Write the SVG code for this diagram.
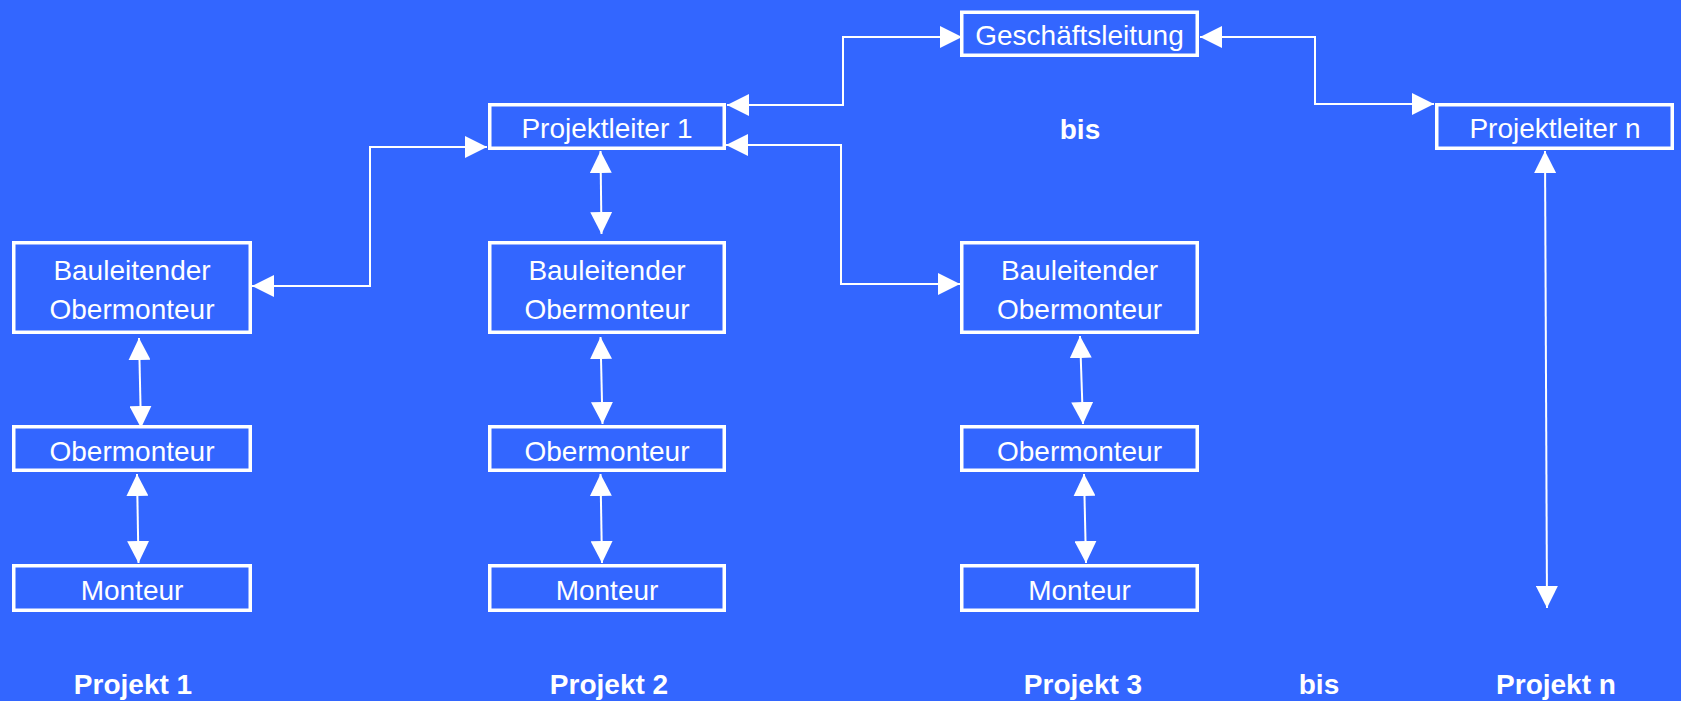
<svg xmlns="http://www.w3.org/2000/svg" width="1681" height="701" viewBox="0 0 1681 701">
<defs>
<style>
.box{fill:none;stroke:#fff;stroke-width:3.5}
.t{fill:#fff;font-family:"Liberation Sans",Arial,sans-serif;font-size:28px;text-anchor:middle}
.b{fill:#fff;font-family:"Liberation Sans",Arial,sans-serif;font-size:28px;font-weight:bold;text-anchor:middle}
.c{fill:none;stroke:#fff;stroke-width:2;marker-start:url(#ah);marker-end:url(#ah)}
</style>
<marker id="ah" markerUnits="userSpaceOnUse" markerWidth="23" markerHeight="22" refX="22" refY="11" orient="auto-start-reverse" viewBox="0 0 23 22">
<path d="M0,0 L22,11 L0,22 z" fill="#fff"/>
</marker>
</defs>
<rect width="1681" height="701" fill="#3366FF"/>
<g id="connectors">
<path class="c" d="M727,105 H843 V37 H962"/>
<path class="c" d="M1200,37 H1315 V104 H1434"/>
<path class="c" d="M252,286 H370 V147 H487"/>
<path class="c" d="M726,145 H841 V284 H960"/>
<path class="c" d="M600.5,151 L601.5,234"/>
<path class="c" d="M1545,151 L1547,608"/>
<path class="c" d="M139,338 L141,428"/>
<path class="c" d="M137,474 L138.5,563"/>
<path class="c" d="M600.5,337 L602.5,424"/>
<path class="c" d="M600.5,474 L602,563"/>
<path class="c" d="M1080,336 L1083,424"/>
<path class="c" d="M1084,474 L1086,563"/>
</g>
<g id="geschaeftsleitung"><rect class="box" x="961.75" y="12.25" width="235.5" height="43"/><text class="t" x="1079.5" y="45">Geschäftsleitung</text></g>
<g id="projektleiter1"><rect class="box" x="489.75" y="104.75" width="234.5" height="43.5"/><text class="t" x="607" y="138">Projektleiter 1</text></g>
<g id="projektleitern"><rect class="box" x="1436.75" y="104.75" width="235.5" height="43.5"/><text class="t" x="1555" y="138">Projektleiter n</text></g>
<text class="b" x="1080" y="139">bis</text>
<g id="bauleitender1"><rect class="box" x="13.75" y="242.75" width="236.5" height="89.5"/><text class="t" x="132" y="280">Bauleitender</text><text class="t" x="132" y="319">Obermonteur</text></g>
<g id="bauleitender2"><rect class="box" x="489.75" y="242.75" width="234.5" height="89.5"/><text class="t" x="607" y="280">Bauleitender</text><text class="t" x="607" y="319">Obermonteur</text></g>
<g id="bauleitender3"><rect class="box" x="961.75" y="242.75" width="235.5" height="89.5"/><text class="t" x="1079.5" y="280">Bauleitender</text><text class="t" x="1079.5" y="319">Obermonteur</text></g>
<g id="obermonteur1"><rect class="box" x="13.75" y="426.75" width="236.5" height="43.5"/><text class="t" x="132" y="461">Obermonteur</text></g>
<g id="obermonteur2"><rect class="box" x="489.75" y="426.75" width="234.5" height="43.5"/><text class="t" x="607" y="461">Obermonteur</text></g>
<g id="obermonteur3"><rect class="box" x="961.75" y="426.75" width="235.5" height="43.5"/><text class="t" x="1079.5" y="461">Obermonteur</text></g>
<g id="monteur1"><rect class="box" x="13.75" y="565.75" width="236.5" height="44.5"/><text class="t" x="132" y="600">Monteur</text></g>
<g id="monteur2"><rect class="box" x="489.75" y="565.75" width="234.5" height="44.5"/><text class="t" x="607" y="600">Monteur</text></g>
<g id="monteur3"><rect class="box" x="961.75" y="565.75" width="235.5" height="44.5"/><text class="t" x="1079.5" y="600">Monteur</text></g>
<text class="b" x="133" y="694">Projekt 1</text>
<text class="b" x="609" y="694">Projekt 2</text>
<text class="b" x="1083" y="694">Projekt 3</text>
<text class="b" x="1319" y="694">bis</text>
<text class="b" x="1556" y="694">Projekt n</text>
</svg>
